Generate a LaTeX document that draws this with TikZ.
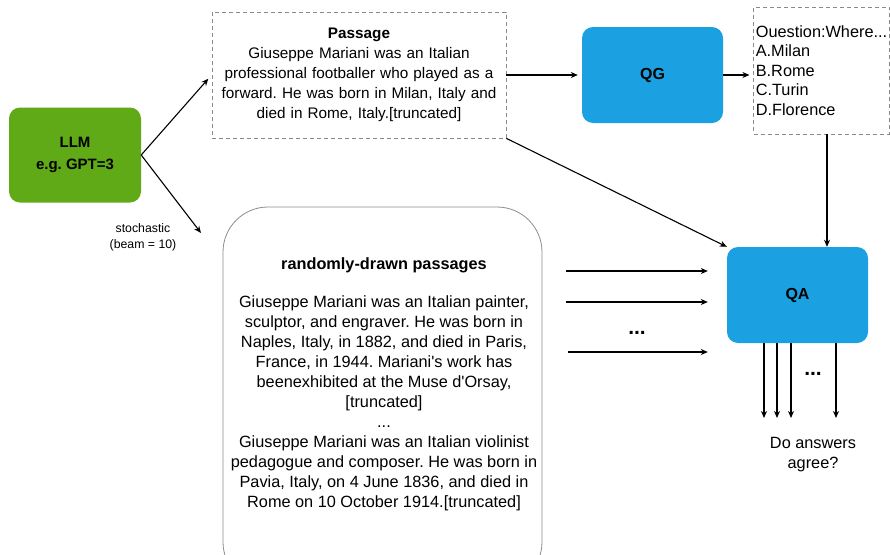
\documentclass[tikz,border=0pt]{standalone}
\usepackage{fontspec}
\setmainfont{Liberation Sans}
\usetikzlibrary{arrows.meta,positioning}
\definecolor{llmgreen}{HTML}{60A917}
\definecolor{qblue}{HTML}{1BA1E2}
\definecolor{dashgray}{HTML}{8A8A8A}
\definecolor{rimgray}{HTML}{8C8C8C}
\frenchspacing

\begin{document}
\begin{tikzpicture}[x=1pt,y=-1pt,
	arr/.style={-{Stealth[length=7pt,width=6pt]}, line width=1.1pt},
	solidbox/.style={rounded corners=11pt, minimum width=141pt, minimum height=96pt, inner sep=0pt, font=\bfseries\fontsize{16}{22}\selectfont},
	dashbox/.style={draw=dashgray, dash pattern=on 4pt off 3pt, line width=0.8pt, inner sep=0pt}]
	\useasboundingbox (0,0) rectangle (890,554);
	% generator and its two outputs
	\node[solidbox, fill=llmgreen, minimum width=132pt, minimum height=95pt, align=center, font=\bfseries\fontsize{15}{22}\selectfont] (llm) at (75,155) {LLM\\e.g. GPT=3};
	\node[dashbox, minimum width=294pt, minimum height=126pt, text width=294pt, align=center, font=\fontsize{15.3}{20}\selectfont] (passage) at (359,75) {\textbf{Passage}\\Giuseppe Mariani was an Italian\\professional footballer who played as a\\forward. He was born in Milan, Italy and\\died in Rome, Italy.[truncated]};
	\begin{scope}
		\clip (0,0) rectangle (890,554);
		\node[draw=rimgray, line width=0.8pt, rounded corners=45pt, minimum width=319pt, minimum height=380pt] (randbox) at (382.5,397) {};
	\end{scope}
	\node[align=center, font=\fontsize{16.3}{20}\selectfont] (randtext) at (384,384) {\textbf{randomly-drawn passages}\\[18pt]Giuseppe Mariani was an Italian painter,\\sculptor, and engraver. He was born in\\Naples, Italy, in 1882, and died in Paris,\\France, in 1944. Mariani\textquotesingle s work has\\beenexhibited at the Muse d\textquotesingle Orsay,\\{[truncated]}\\...\\Giuseppe Mariani was an Italian violinist\\pedagogue and composer. He was born in\\Pavia, Italy, on 4 June 1836, and died in\\Rome on 10 October 1914.[truncated]};
	\node[align=center, font=\fontsize{12.3}{16}\selectfont] (stoch) at (143,237) {stochastic\\(beam = 10)};
	\coordinate (randin) at (201,233);
	\draw[arr, shorten >=5pt] (llm.east) -- (passage.west);
	\draw[arr] (llm.east) -- (randin);
	% question generation
	\node[solidbox, fill=qblue] (qg) at (652.5,75) {QG};
	\node[dashbox, minimum width=135pt, minimum height=127pt, align=left, inner xsep=2pt, font=\fontsize{16.3}{19.5}\selectfont] (question) at (821.5,70.5) {Ouestion:Where...\\A.Milan\\B.Rome\\C.Turin\\D.Florence};
	\draw[arr, shorten >=4pt] (passage.east |- qg.west) -- (qg.west);
	\draw[arr, shorten >=4pt] (qg.east) -- (qg.east -| question.west);
	% answering
	\node[solidbox, fill=qblue] (qa) at (797.5,295) {QA};
	\draw[arr] (passage.south east) -- (qa.north west);
	\draw[arr] ([xshift=5.5pt]question.south) -- ([xshift=5.5pt]question.south |- qa.north);
	\coordinate (in1) at (566,271);
	\coordinate (in2) at (566,302);
	\coordinate (in3) at (568,352);
	\foreach \c in {in1,in2,in3}
		\draw[arr, shorten >=19pt] (\c) -- (\c -| qa.west);
	\node[font=\bfseries\fontsize{21}{20}\selectfont] (indots) at (637,333) {...};
	\coordinate (outend) at (800,418);
	\foreach \dx in {-33.5,-20.5,-6.5,38.5}
		\draw[arr] ([xshift=\dx pt]qa.south) -- ([xshift=\dx pt]qa.south |- outend);
	\node[font=\bfseries\fontsize{21}{20}\selectfont] (outdots) at (813,374) {...};
	\node[align=center, font=\fontsize{16.3}{20}\selectfont] (agree) at (813,455) {Do answers\\agree?};
\end{tikzpicture}
\end{document}
